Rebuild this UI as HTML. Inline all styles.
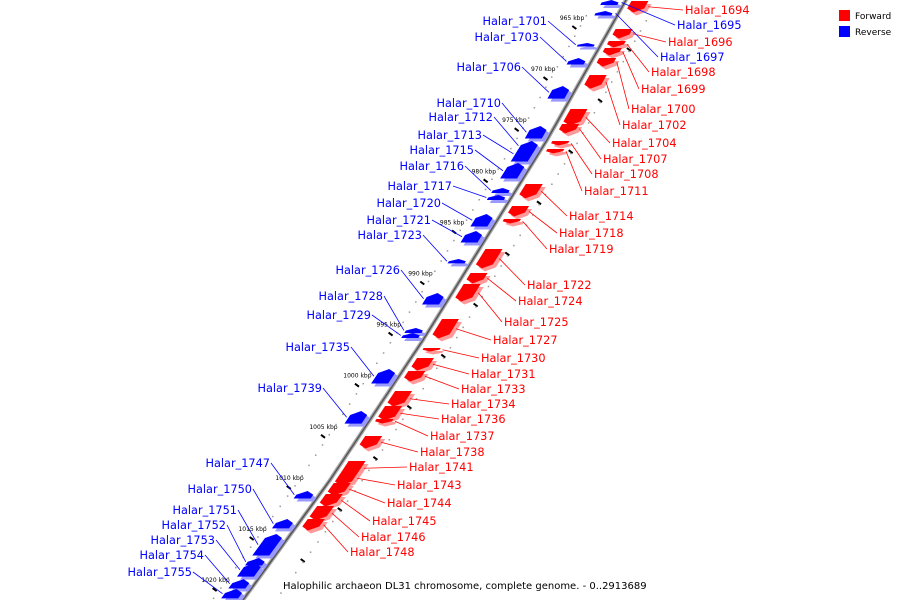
<!DOCTYPE html>
<html><head><meta charset="utf-8"><style>
body{margin:0;background:#fff;}
svg{display:block;font-family:"DejaVu Sans","Liberation Sans",sans-serif;}
</style></head><body>
<svg id="c" width="900" height="600" viewBox="0 0 900 600">
<g id="ticks"></g>
<polyline id="ax1" fill="none" stroke="#aaa" stroke-width="4"/>
<polyline id="ax2" fill="none" stroke="#555" stroke-width="1.5"/>
<g id="genes"></g>
<g>
<rect x="839" y="10" width="11" height="11" fill="#f00"/>
<text x="855" y="19" font-size="9">Forward</text>
<rect x="839" y="26" width="11" height="11" fill="#00f"/>
<text x="855" y="35" font-size="9">Reverse</text>
</g>
<text x="283" y="589" font-size="10">Halophilic archaeon DL31 chromosome, complete genome. - 0..2913689</text>
</svg>
<script>
const tickKbp=[965,970,975,980,985,990,995,1000,1005,1010,1015,1020];
const fwdNames=["Halar_1694","Halar_1696","Halar_1698","Halar_1699","Halar_1700","Halar_1702","Halar_1704","Halar_1707","Halar_1708","Halar_1711","Halar_1714","Halar_1718","Halar_1719","Halar_1722","Halar_1724","Halar_1725","Halar_1727","Halar_1730","Halar_1731","Halar_1733","Halar_1734","Halar_1736","Halar_1737","Halar_1738","Halar_1741","Halar_1743","Halar_1744","Halar_1745","Halar_1746","Halar_1748"];
const fwdPos=[963.24,965.98,967.15,967.84,968.82,970.48,973.81,975.27,976.94,977.72,981.14,983.30,984.57,987.50,989.85,990.93,994.35,997.19,998.17,999.44,1001.40,1002.87,1004.14,1005.80,1008.25,1009.23,1010.40,1011.48,1012.65,1013.92];
const fwdLen=[1.37,1.17,0.88,0.98,1.08,1.57,1.86,1.17,0.68,0.68,1.66,1.27,0.68,2.15,1.27,1.96,2.15,0.59,1.47,1.27,1.76,1.66,0.68,1.47,1.66,1.66,1.47,1.47,1.66,1.37];
const fwdLabelX=[685,668,651,641,631,622,612,603,594,584,569,559,549,527,518,504,493,481,471,461,451,441,430,420,409,397,387,372,361,350];
const fwdLabelY=[10,42,72,89,109,125,143,159,174,191,216,233,249,285,301,322,340,358,374,389,404,419,436,452,467,485,503,521,537,552];
const revNames=["Halar_1695","Halar_1697","Halar_1701","Halar_1703","Halar_1706","Halar_1710","Halar_1712","Halar_1713","Halar_1715","Halar_1716","Halar_1717","Halar_1720","Halar_1721","Halar_1723","Halar_1726","Halar_1728","Halar_1729","Halar_1735","Halar_1739","Halar_1747","Halar_1750","Halar_1751","Halar_1752","Halar_1753","Halar_1754","Halar_1755"];
const revPos=[963.24,964.22,967.35,968.82,971.56,975.47,976.94,977.43,979.09,981.63,982.32,984.08,985.74,988.48,991.81,995.33,995.82,999.25,1003.36,1011.18,1013.92,1015.39,1017.74,1018.23,1019.80,1020.77];
const revLen=[0.49,0.68,0.59,0.88,1.47,1.47,1.17,1.76,1.76,0.49,0.49,1.47,1.37,0.68,1.37,0.49,0.49,1.66,1.47,0.98,1.17,2.35,0.98,1.57,1.17,1.17];
const revLabelX=[677,660,547,539,521,501,493,482,474,464,452,441,431,422,400,383,371,350,322,270,252,237,226,215,204,192];
const revLabelY=[25,57,21,37,67,103,117,135,150,166,186,203,220,235,270,296,315,347,388,463,489,510,525,540,555,572];

const NS="http://www.w3.org/2000/svg";
const AY=[0,140,340,480,600], AX=[626,547,423,330,243];
function yOf(k){return 18+(k-965)*10.22;}
function axisX(y){
  if(y<=AY[0]) return AX[0]+(AX[1]-AX[0])/(AY[1]-AY[0])*(y-AY[0]);
  for(let i=0;i<AY.length-1;i++){ if(y<=AY[i+1]) return AX[i]+(AX[i+1]-AX[i])*(y-AY[i])/(AY[i+1]-AY[i]); }
  const n=AY.length-1; return AX[n]+(AX[n]-AX[n-1])/(AY[n]-AY[n-1])*(y-AY[n]);
}
let pl=[];for(let y=-5;y<=605;y+=5)pl.push(axisX(y).toFixed(1)+','+y);
document.getElementById('ax1').setAttribute('points',pl.join(' '));
document.getElementById('ax2').setAttribute('points',pl.join(' '));
function mk(tag,attrs,parent){const e=document.createElementNS(NS,tag);for(const a in attrs)e.setAttribute(a,attrs[a]);parent.appendChild(e);return e;}
const tg=document.getElementById('ticks');
tickKbp.forEach((k,i)=>{
  const y=yOf(k);const x=axisX(y);
  const t=mk('text',{x:x-56,y:y+2,'font-size':6,fill:'#000'},tg);
  t.textContent=k+' kbp';
  
  
  const yd=y+8,xd=axisX(yd);
  const d=mk('line',{x1:xd-39,y1:yd,x2:xd-35,y2:yd+3,stroke:'#000','stroke-width':2},tg);
  
  
  const y2=y+30,x2=axisX(y2);
  const d2=mk('line',{x1:x2+28,y1:y2,x2:x2+32,y2:y2+3,stroke:'#000','stroke-width':2},tg);
  
  
  for(let j=0;j<5;j++){
    const yy=y+j*10.22-3,xx=axisX(yy);
    const p=mk('rect',{x:xx-32,y:yy,width:1.5,height:1.5,fill:'#999'},tg);
    
    
    const p2=mk('rect',{x:xx+28,y:yy+5,width:1.5,height:1.5,fill:'#999'},tg);
    
    
  }
});
const gg=document.getElementById('genes');
function gene(name,k,len,lx,ly,fwd,rightLabel){
  let y0=yOf(k),y1=yOf(k+len);
  if(y1-y0>6){y0+=1;y1-=1.5;}
  const off=fwd?6:-23,w=17;
  const col=fwd?'#f00':'#00f',light=fwd?'#f99':'#99f';
  const g=mk('g',{},gg);
  
  
  const xa=axisX(y0)+off,xb=axisX(y1)+off;
  const tip=Math.min(4,(y1-y0)/2);
  let P;
  if(fwd){
    const ym=y1-tip,xm=axisX(ym)+off;
    P=[[xa,y0],[xa+w,y0],[xm+w,ym],[xb+w/2,y1],[xm,ym]];
  } else {
    const ym=y0+tip,xm=axisX(ym)+off;
    P=[[xa+w/2,y0],[xm+w,ym],[xb+w,y1],[xb,y1],[xm,ym]];
  }
  const pts=(dx,dy)=>P.map(p=>(p[0]+dx).toFixed(1)+','+(p[1]+dy).toFixed(1)).join(' ');
  const s=mk('polygon',{points:pts(3,3),fill:light},g);
  
  
  const b=mk('polygon',{points:pts(0,0),fill:col},g);
  
  
  const cy=(y0+y1)/2,cx=axisX(cy)+off+(fwd||rightLabel?w+3:-2);
  const ln=mk('line',{x1:cx,y1:cy,x2:(fwd||rightLabel)?lx-2:lx+1,y2:ly-4,stroke:col,'stroke-width':0.8},g);
  
  
  const t=mk('text',{x:lx,y:ly,'font-size':11.3,fill:col,'text-anchor':(fwd||rightLabel)?'start':'end'},g);
  t.textContent=name;
  
  
}
fwdNames.forEach((n,i)=>gene(n,fwdPos[i],fwdLen[i],fwdLabelX[i],fwdLabelY[i]+4,true,false));
revNames.forEach((n,i)=>gene(n,revPos[i],revLen[i],revLabelX[i],revLabelY[i]+4,false,revLabelX[i]>600));
</script>
</body></html>
